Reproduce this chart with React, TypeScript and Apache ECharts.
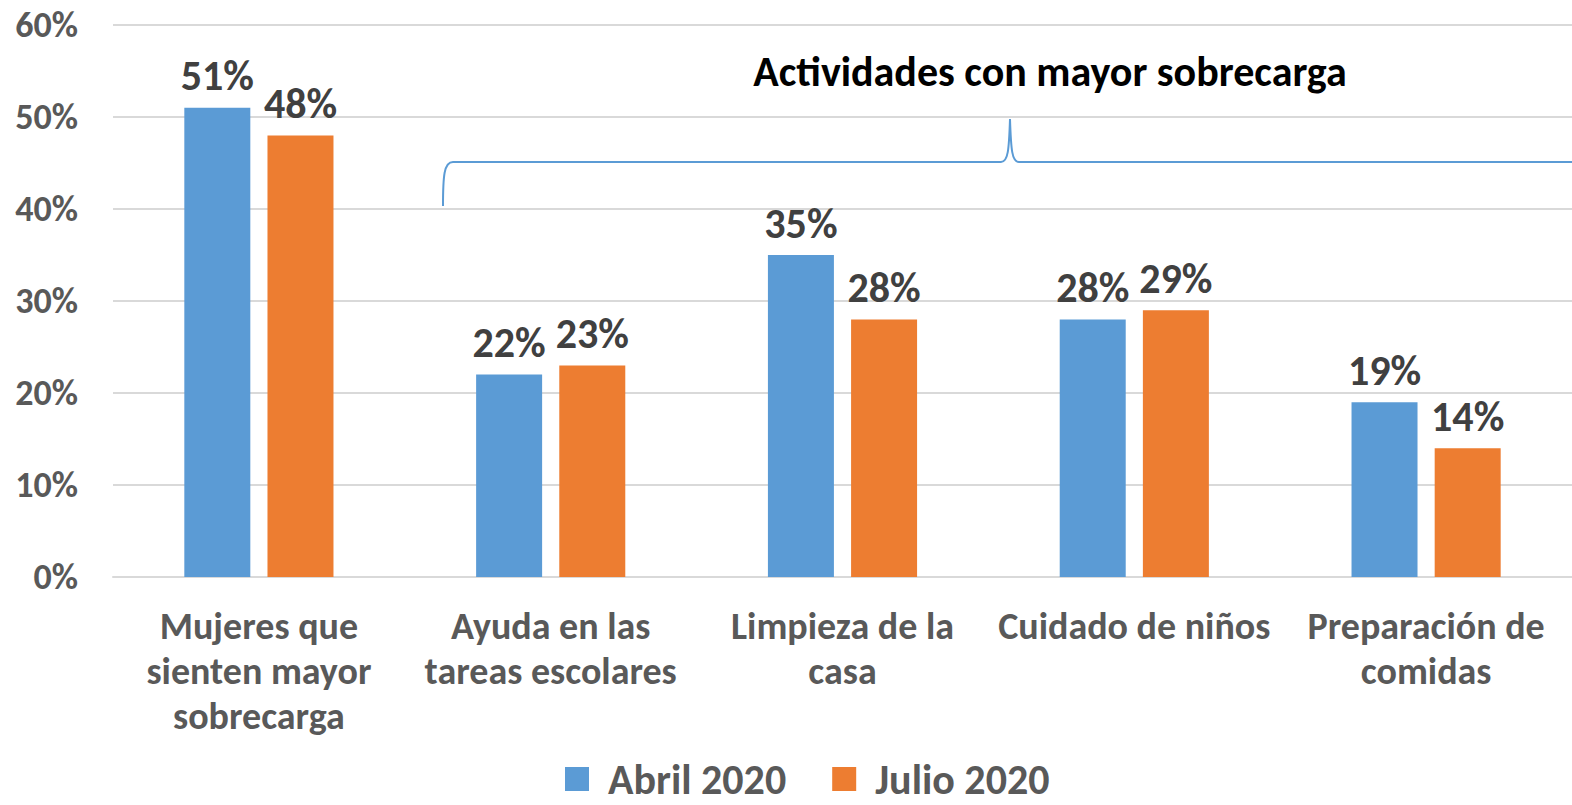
import React, { useEffect, useRef } from "react";
import * as echarts from "echarts";

const categories = [
  "Mujeres que\nsienten mayor\nsobrecarga",
  "Ayuda en las\ntareas escolares",
  "Limpieza de la\ncasa",
  "Cuidado de niños",
  "Preparación de\ncomidas",
];
const abril2020 = [51, 22, 35, 28, 19];
const julio2020 = [48, 23, 28, 29, 14];
const seriesNames = ["Abril 2020", "Julio 2020"];
const annotationTitle = "Actividades con mayor sobrecarga";

const FONT = "Carlito, Calibri, Lato, 'Open Sans', sans-serif";

echarts.graphic.registerShape(
  "brace",
  echarts.graphic.extendPath(
    "M443,206 C443,176 444,162 453,162 L1001,162 C1008,162 1009,150 1010,119 C1011,150 1012,162 1019,162 L1575,162",
    {}
  )
);

export default function App() {
  const ref = useRef<HTMLDivElement>(null);
  useEffect(() => {
    const chart = echarts.init(ref.current!, undefined, { renderer: "svg" });
    const labelCfg = {
      show: true,
      position: "top" as const,
      distance: 11,
      formatter: "{c}%",
      fontFamily: FONT,
      fontSize: 42,
      fontWeight: "bold" as const,
      color: "#404040",
    };
    chart.setOption({
      animation: false,
      backgroundColor: "#ffffff",
      grid: { left: 113, right: 0, top: 25, bottom: 228, containLabel: false },
      legend: {
        top: 756,
        left: 565,
        padding: [0, 0, 0, 0],
        itemWidth: 24,
        itemHeight: 24,
        itemGap: 46,
        icon: "rect",
        data: seriesNames,
        textStyle: {
          fontFamily: FONT,
          fontSize: 42,
          lineHeight: 46,
          fontWeight: "bold",
          color: "#595959",
          padding: [0, 0, 0, 14],
        },
      },
      xAxis: {
        type: "category",
        data: categories,
        axisLine: { show: true, lineStyle: { color: "#d9d9d9", width: 2 } },
        axisTick: { show: false },
        axisLabel: {
          interval: 0,
          margin: 26,
          fontFamily: FONT,
          fontSize: 38,
          fontWeight: "bold",
          color: "#595959",
          lineHeight: 45,
        },
      },
      yAxis: {
        type: "value",
        min: 0,
        max: 60,
        interval: 10,
        axisLine: { show: false },
        axisTick: { show: false },
        splitLine: { lineStyle: { color: "#d9d9d9", width: 2 } },
        axisLabel: {
          margin: 35,
          formatter: "{value}%",
          fontFamily: FONT,
          fontSize: 36,
          fontWeight: "bold",
          color: "#595959",
        },
      },
      series: [
        {
          name: seriesNames[0],
          type: "bar",
          data: abril2020,
          barWidth: 66,
          barGap: "26%",
          itemStyle: { color: "#5B9BD5" },
          label: labelCfg,
        },
        {
          name: seriesNames[1],
          type: "bar",
          data: julio2020,
          barWidth: 66,
          itemStyle: { color: "#ED7D31" },
          label: labelCfg,
        },
      ],
      graphic: [
        {
          type: "brace",
          x: 0,
          y: 0,
          silent: true,
          style: { fill: "none", stroke: "#5B9BD5", lineWidth: 2 },
        },
        {
          type: "text",
          x: 1050,
          y: 71,
          style: {
            text: annotationTitle,
            fontFamily: FONT,
            fontSize: 42,
            fontWeight: "bold",
            fill: "#000000",
            align: "center",
            verticalAlign: "middle",
          },
        },
      ],
    });
    return () => chart.dispose();
  }, []);
  return (
    <div
      ref={ref}
      style={{ position: "fixed", left: 0, top: 0, width: 1572, height: 805 }}
    />
  );
}
